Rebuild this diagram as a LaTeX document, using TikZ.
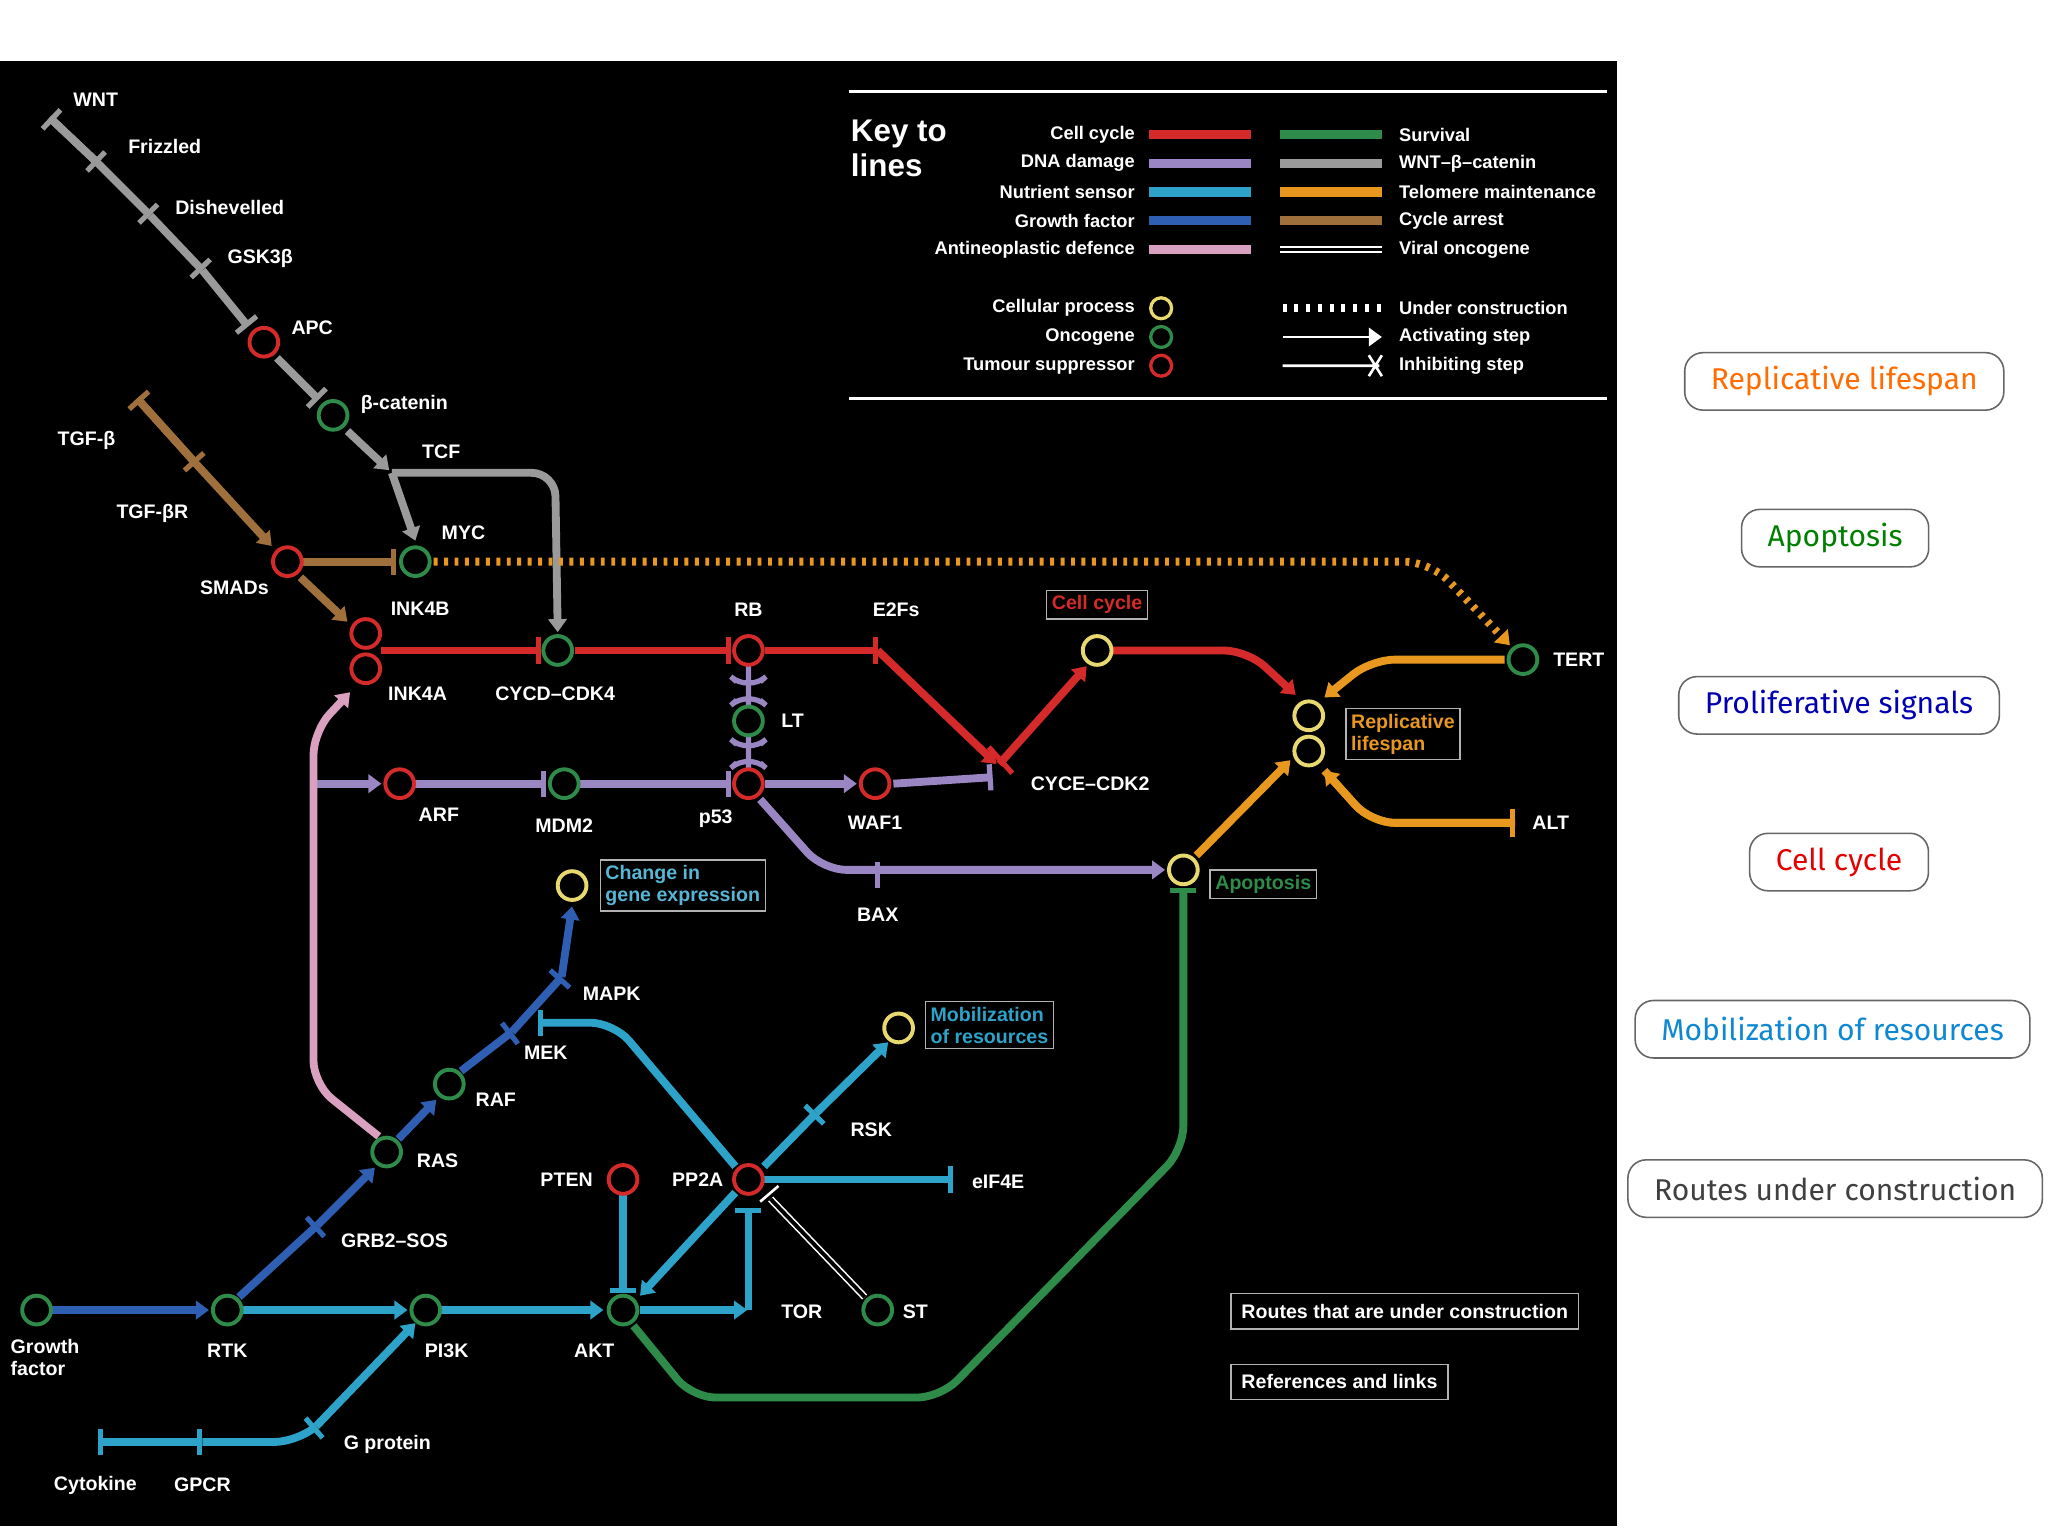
\documentclass[tikz,border=0pt]{standalone}
\usepackage{fontspec}
\setmainfont{Liberation Sans}
\newfontfamily\pillfont{Fira Sans}
\usetikzlibrary{arrows.meta}
\definecolor{cred}{HTML}{D42A2A}\definecolor{cpur}{HTML}{9B86C4}\definecolor{ccy}{HTML}{2EA3C9}
\definecolor{cblu}{HTML}{2F5FB3}\definecolor{cpink}{HTML}{D9A0C0}\definecolor{cgrn}{HTML}{2E8B4A}
\definecolor{cgry}{HTML}{9A9A9A}\definecolor{corg}{HTML}{E8981E}\definecolor{cbrn}{HTML}{A0703C}
\definecolor{cyel}{HTML}{E8D870}
\begin{document}
\begin{tikzpicture}[x=1pt,y=-1pt,
 cn/.style={circle,draw,line width=3pt,minimum size=22pt,inner sep=0pt,fill=black},
 onc/.style={cn,draw=cgrn},sup/.style={cn,draw=cred},prc/.style={cn,draw=cyel},
 lb/.style={text=white,font=\bfseries\fontsize{15}{17}\selectfont,inner sep=1pt},
 ln/.style={line width=6pt,rounded corners=18pt},
 act/.style={-{Triangle[length=10pt,width=14pt]}},
 inh/.style={-{Bar[width=20pt,line width=4pt]}},
 tb/.style={draw=white!70!black,line width=1pt,font=\bfseries\fontsize{15}{17}\selectfont,align=left,inner sep=4pt,fill=black},
 pill/.style={draw=black!60,line width=1.2pt,rounded corners=14pt,fill=white,font=\pillfont\fontsize{23}{28}\selectfont,minimum height=44pt,inner xsep=20pt},
 kl/.style={text=white,font=\bfseries\fontsize{14}{16}\selectfont,inner sep=1pt}]
\useasboundingbox (0,0) rectangle (1568,1176);
\fill[white] (0,0) rectangle (1568,1176);
\fill[black] (0,47) rectangle (1238,1168);
% key
\draw[white,line width=2pt] (650,70)--(1230,70) (650,305)--(1230,305);
\node[text=white,font=\bfseries\fontsize{24}{27}\selectfont,align=left,anchor=north west] (keyt) at (648,88) {Key to\\lines};
\foreach \t/\c/\y in {Cell cycle/cred/103,DNA damage/cpur/125,Nutrient sensor/ccy/147,Growth factor/cblu/169,Antineoplastic defence/cpink/191}{
 \node[kl,anchor=east] at (870,\y) {\t}; \draw[\c,line width=7pt] (880,\y)--(958,\y);}
\foreach \t/\c/\y in {Survival/cgrn/103,WNT–β–catenin/cgry/125,Telomere maintenance/corg/147,Cycle arrest/cbrn/169}{
 \node[kl,anchor=west] at (1070,\y) {\t}; \draw[\c,line width=7pt] (980,\y)--(1058,\y);}
\node[kl,anchor=west] at (1070,191) {Viral oncogene}; \draw[white,line width=1.2pt,double=black,double distance=3pt] (980,191)--(1058,191);
\node[kl,anchor=east] at (870,236) {Cellular process}; \node[circle,draw=cyel,line width=2.5pt,minimum size=16pt] at (889,236){};
\node[kl,anchor=east] at (870,258) {Oncogene}; \node[circle,draw=cgrn,line width=2.5pt,minimum size=16pt] at (889,258){};
\node[kl,anchor=east] at (870,280) {Tumour suppressor}; \node[circle,draw=cred,line width=2.5pt,minimum size=16pt] at (889,280){};
\draw[white,line width=6pt,dash pattern=on 3pt off 6pt] (982,236)--(1060,236); \node[kl,anchor=west] at (1070,236) {Under construction};
\draw[white,line width=2pt,act] (982,258)--(1058,258); \node[kl,anchor=west] at (1070,258) {Activating step};
\draw[white,line width=2pt] (982,280)--(1056,280) (1048,272)--(1058,288) (1058,272)--(1048,288); \node[kl,anchor=west] at (1070,280) {Inhibiting step};
% coordinates
\coordinate (wnt) at (38,90); \coordinate (friz) at (75,125); \coordinate (dish) at (115,165); \coordinate (gsk) at (155,207);
\coordinate (tgfb) at (105,305); \coordinate (tgfr) at (150,355); \coordinate (tcf) at (300,362);
\coordinate (e2f) at (672,492); \coordinate (cyce) at (765,585); \coordinate (bax) at (672,668);
\coordinate (alt) at (1160,630); \coordinate (mapk) at (430,748); \coordinate (mek) at (390,795);
\coordinate (grb) at (243,938); \coordinate (tor) at (578,1003); \coordinate (rsk) at (625,852);
\coordinate (eif) at (730,903); \coordinate (cyt) at (75,1104); \coordinate (gpcr) at (155,1104); \coordinate (gprot) at (240,1095);
% lines
\begin{scope}[ln]
\draw[cgry,{Bar[width=20pt,line width=4pt]}-] (wnt)--(friz); \draw[cgry,inh] (wnt)--(friz);
\draw[cgry,inh] (friz)--(dish); \draw[cgry,inh] (dish)--(gsk); \draw[cgry,inh] (gsk)--(190,250);
\draw[cgry,inh] (212,274)--(244,306); \draw[cgry,act] (266,330)--(298,360);
\draw[cgry,act] (300,362)--(318,414); \draw[cgry,act] (300,362)--(425,362)--(427,484);
\draw[cbrn,{Bar[width=20pt,line width=4pt]}-] (tgfb)--(tgfr); \draw[cbrn,inh] (tgfb)--(tgfr); \draw[cbrn,act] (tgfr)--(208,418);
\draw[cbrn,inh] (232,430)--(303,430); \draw[cbrn,act] (230,442)--(266,476);
\draw[corg,line width=6pt,dash pattern=on 3pt off 5pt,rounded corners=20pt,act] (332,430)--(1095,430)--(1156,494);
\draw[cred,inh] (292,498)--(414,498); \draw[cred,inh] (440,498)--(560,498); \draw[cred,inh] (586,498)--(672,498);
\draw[cred,act] (672,498)--(763,585);
\draw[cred,act] (765,585)--(832,510); \draw[cred,act] (852,498)--(955,498)--(992,532);
\draw[cred,line width=4pt] (757,572)--(775,592);
\draw[cpur,line width=4pt] (573,510)--(573,540) (564,522)--(573,530)--(582,522) (564,536)--(573,528)--(582,536);
\draw[cpur,line width=4pt] (573,564)--(573,590) (564,570)--(573,578)--(582,570) (564,584)--(573,576)--(582,584);
\draw[cpur,act] (240,600)--(292,600); \draw[cpur,inh] (318,600)--(418,600); \draw[cpur,inh] (444,600)--(560,600);
\draw[cpur,act] (586,600)--(656,600); \draw[cpur,inh] (684,600)--(760,595);
\draw[cpur,act] (582,612)--(630,666)--(892,666); \draw[cpur,line width=4pt] (672,660)--(672,680);
\draw[cpink,act] (290,870)--(240,830)--(240,560)--(268,530);
\draw[cblu,act] (40,1003)--(160,1003); \draw[cblu,inh] (183,993)--(243,938); \draw[cblu,act] (243,938)--(287,894);
\draw[cblu,act] (305,872)--(334,842); \draw[cblu,inh] (353,820)--(392,790); \draw[cblu,inh] (392,790)--(430,748); \draw[cblu,act] (430,748)--(438,694);
\draw[ccy,act] (186,1003)--(312,1003); \draw[ccy,act] (338,1003)--(462,1003); \draw[ccy,act] (490,1003)--(572,1003);
\draw[ccy,{Bar[width=20pt,line width=4pt]}-] (cyt)--(gpcr); \draw[ccy,inh] (cyt)--(gpcr);
\draw[ccy,inh] (gpcr)--(228,1104)--(242,1092); \draw[ccy,act] (242,1092)--(318,1013);
\draw[ccy,inh] (477,915)--(477,990); \draw[ccy,act] (563,913)--(490,992);
\draw[ccy,inh] (573,1003)--(573,925); \draw[ccy,inh] (585,893)--(625,852); \draw[ccy,act] (625,852)--(680,798);
\draw[ccy,inh] (563,893)--(470,783)--(412,783); \draw[ccy,inh] (585,903)--(730,903);
\draw[cgrn,inh] (485,1015)--(530,1070)--(720,1070)--(906,880)--(906,680);
\draw[corg,act] (916,655)--(988,582); \draw[corg,act] (1152,505)--(1050,505)--(1014,534);
\draw[corg,{Bar[width=22pt,line width=4pt]}-] (alt)--(1050,630)--(1014,590); \draw[corg,act] (alt)--(1050,630)--(1014,590);
\end{scope}
\draw[white,line width=1.2pt,double=black,double distance=3pt] (662,993)--(590,918); \draw[white,line width=2pt] (582,920)--(596,908);
% nodes
\node[sup] (apc) at (202,262){}; \node[onc] (bcat) at (255,318){}; \node[onc] (myc) at (318,430){}; \node[sup] (smad) at (220,430){};
\node[sup] (ink4b) at (280,485){}; \node[sup] (ink4a) at (280,512){}; \node[onc] (cycd) at (427,498){}; \node[sup] (rb) at (573,498){};
\node[onc] (lt) at (573,552){}; \node[sup] (p53) at (573,600){}; \node[sup] (arf) at (306,600){}; \node[onc] (mdm2) at (432,600){};
\node[sup] (waf) at (670,600){}; \node[prc] (cc) at (840,498){}; \node[prc] (rl1) at (1002,548){}; \node[prc] (rl2) at (1002,575){};
\node[onc] (tert) at (1166,505){}; \node[prc] (apo) at (906,666){}; \node[prc] (cge) at (438,678){}; \node[onc] (raf) at (344,830){};
\node[onc] (ras) at (296,882){}; \node[onc] (rtk) at (174,1003){}; \node[onc] (gf) at (28,1003){}; \node[onc] (pi3k) at (326,1003){};
\node[onc] (akt) at (477,1003){}; \node[onc] (st) at (672,1003){}; \node[sup] (pten) at (477,903){}; \node[sup] (pp2a) at (573,903){};
\node[prc] (mob) at (688,787){};
% labels
\node[lb,anchor=west] at (55,76){WNT}; \node[lb,anchor=west] at (97,112){Frizzled}; \node[lb,anchor=west] at (133,159){Dishevelled};
\node[lb,anchor=west] at (173,198){GSK3β}; \node[lb,anchor=west] at (222,251){APC}; \node[lb,anchor=west] at (275,310){β-catenin};
\node[lb,anchor=west] at (322,346){TCF}; \node[lb,anchor=west] at (337,408){MYC}; \node[lb,anchor=west] at (43,337){TGF-β};
\node[lb,anchor=west] at (88,393){TGF-βR}; \node[lb,anchor=west] at (152,450){SMADs}; \node[lb,anchor=west] at (298,466){INK4B};
\node[lb,anchor=west] at (296,531){INK4A}; \node[lb,anchor=west] at (378,531){CYCD–CDK4}; \node[lb] at (573,467){RB};
\node[lb,anchor=west] at (667,467){E2Fs}; \node[lb,anchor=west] at (597,552){LT}; \node[lb] at (548,627){p53};
\node[lb] at (336,624){ARF}; \node[lb] at (432,632){MDM2}; \node[lb] at (670,630){WAF1}; \node[lb,anchor=west] at (788,600){CYCE–CDK2};
\node[lb,anchor=west] at (1188,505){TERT}; \node[lb,anchor=west] at (1172,630){ALT}; \node[lb] at (672,700){BAX};
\node[lb,anchor=west] at (445,761){MAPK}; \node[lb,anchor=west] at (400,806){MEK}; \node[lb,anchor=west] at (363,842){RAF};
\node[lb,anchor=west] at (318,889){RAS}; \node[lb,anchor=west] at (260,950){GRB2–SOS}; \node[lb] at (174,1034){RTK};
\node[lb,anchor=north west,align=left] at (7,1024){Growth\\factor};
\node[lb] at (342,1034){PI3K}; \node[lb] at (455,1034){AKT}; \node[lb,anchor=west] at (597,1004){TOR}; \node[lb,anchor=west] at (690,1004){ST};
\node[lb,anchor=east] at (455,903){PTEN}; \node[lb,anchor=east] at (555,903){PP2A}; \node[lb,anchor=west] at (650,865){RSK};
\node[lb,anchor=west] at (743,905){eIF4E}; \node[lb] at (73,1137){Cytokine}; \node[lb] at (155,1137){GPCR}; \node[lb,anchor=west] at (262,1106){G protein};
\node[tb,text=cred] at (840,463){Cell cycle}; \node[tb,text=corg,anchor=west] at (1030,562){Replicative\\lifespan};
\node[tb,text=cgrn,anchor=west] at (926,677){Apoptosis}; \node[tb,text=ccy!80!white,anchor=west] at (459,678){Change in\\gene expression};
\node[tb,text=ccy,anchor=west] at (708,785){Mobilization\\of resources};
\node[tb,text=white,anchor=west,inner sep=8pt] at (942,1004){Routes that are under construction};
\node[tb,text=white,anchor=west,inner sep=8pt] at (942,1058){References and links};
% pills
\node[pill,text=orange!85!red] at (1412,292){Replicative lifespan};
\node[pill,text=green!50!black] at (1405,412){Apoptosis};
\node[pill,text=blue!70!black] at (1408,540){Proliferative signals};
\node[pill,text=red!90!black] at (1408,660){Cell cycle};
\node[pill,text=cyan!70!blue] at (1403,788){Mobilization of resources};
\node[pill,text=black!75] at (1405,910){Routes under construction};
\end{tikzpicture}
\end{document}
